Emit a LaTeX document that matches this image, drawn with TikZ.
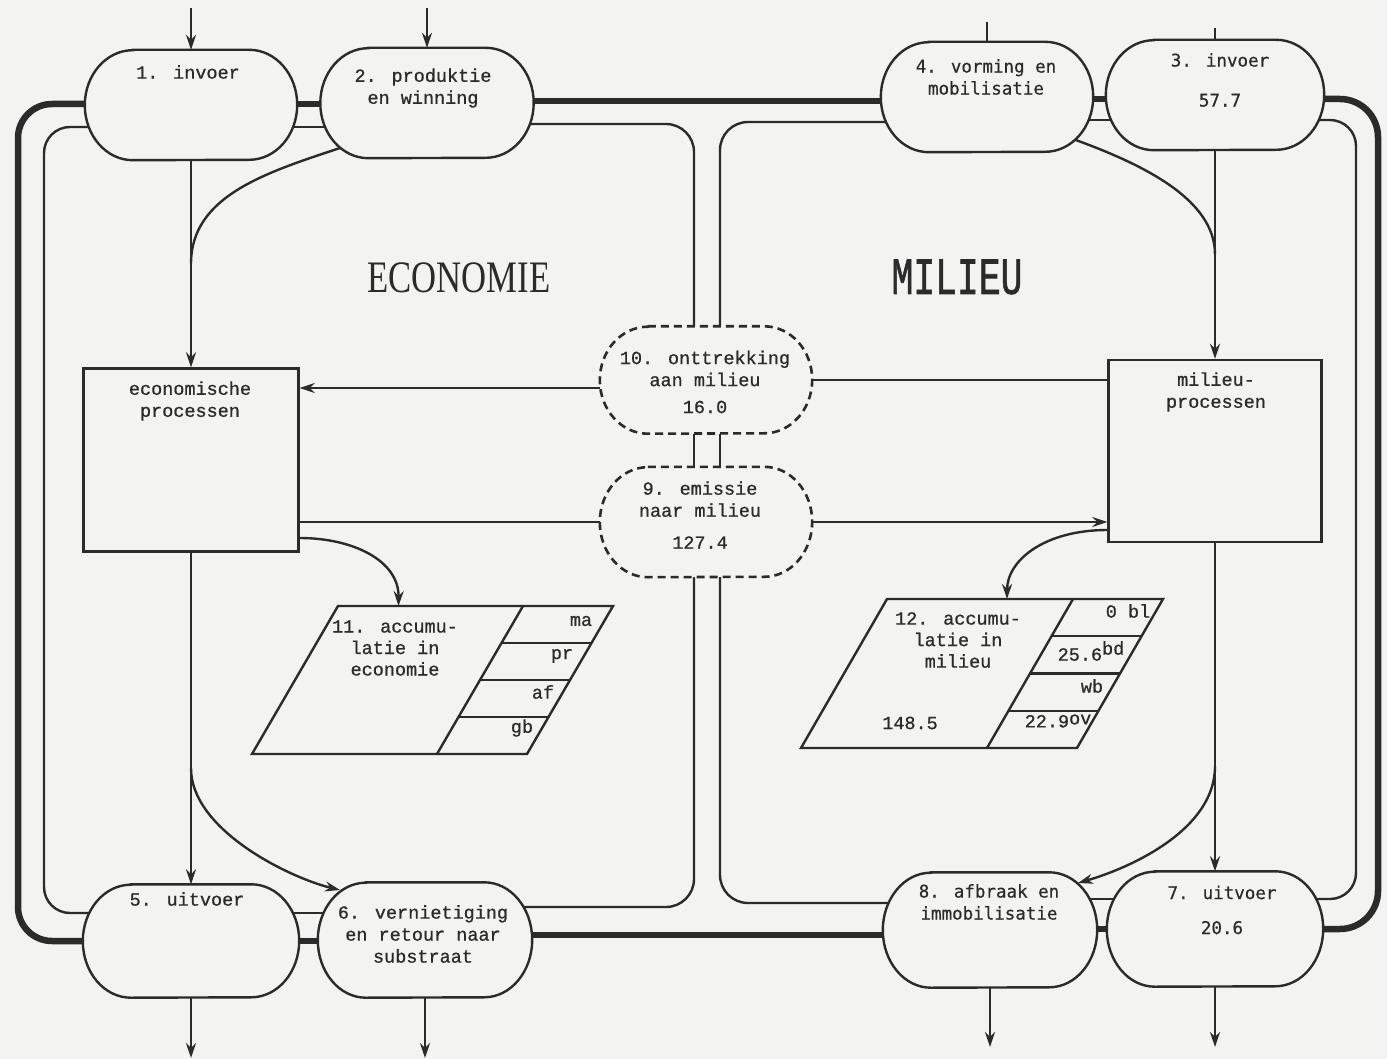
\documentclass[tikz,border=0pt]{standalone}
\usepackage{fontspec}
\newfontfamily\typefont{Liberation Mono}[FakeBold=0.8]
\newfontfamily\gothfont{DejaVu Sans Mono}[FakeBold=0.5]
\newfontfamily\titleserif{Liberation Serif}
\newfontfamily\titlemono{Liberation Mono}[FakeBold=1.5]
\usetikzlibrary{arrows.meta,calc}

\definecolor{paper}{HTML}{F3F3F1}
\definecolor{ink}{HTML}{2B2B2B}

% oval process outline with elliptic ends: style, node, x radius, half height
\newcommand\stadium[4]{%
  \path[#1] ([xshift=#3]#2.north west) -- ([xshift=-#3]#2.north east)
    arc[start angle=90, end angle=-90, x radius=#3, y radius=#4]
    -- ([xshift=#3]#2.south west)
    arc[start angle=270, end angle=90, x radius=#3, y radius=#4] -- cycle;}

\tikzset{
  anchorbox/.style 2 args={draw=none, inner sep=0pt, minimum width=#1, minimum height=#2},
  procbox/.style 2 args={draw=ink, fill=paper, line width=2.4pt, inner sep=0pt, minimum width=#1, minimum height=#2},
  thinflow/.style={draw=ink, line width=2.4pt},
  thickflow/.style={draw=ink, line width=6.5pt},
  flowarrow/.style={thinflow, -{Stealth[length=15pt,width=10pt,inset=5pt]}},
  outline/.style={draw=ink, fill=paper, line width=2.4pt},
  dashoutline/.style={draw=ink, fill=paper, line width=2.6pt, dash pattern=on 8pt off 5pt},
  typetext/.style={font=\typefont\fontsize{18.5}{22}\selectfont, text=ink, align=center, inner sep=0pt},
  gothtext/.style={font=\gothfont\fontsize{17.5}{22}\selectfont, text=ink, align=center, inner sep=0pt},
}

\begin{document}
\begin{tikzpicture}[x=1pt,y=-1pt]
\fill[paper] (0,0) rectangle (1387,1059);
\useasboundingbox (0,0) rectangle (1387,1059);

% process frames
\node[anchorbox={212pt}{110pt}] (n1) at (191,105) {};
\node[anchorbox={213pt}{110pt}] (n2) at (427,103) {};
\node[anchorbox={212pt}{110pt}] (n4) at (987,97) {};
\node[anchorbox={218pt}{110pt}] (n3) at (1215,95) {};
\node[anchorbox={216pt}{113pt}] (n5) at (191,941) {};
\node[anchorbox={214pt}{115pt}] (n6) at (425,940) {};
\node[anchorbox={214pt}{115pt}] (n8) at (990,930) {};
\node[anchorbox={216pt}{115pt}] (n7) at (1215,929) {};
\node[anchorbox={212pt}{107pt}] (n10) at (706,380) {};
\node[anchorbox={212pt}{110pt}] (n9) at (706,522) {};

\node[procbox={215pt}{183pt}] (econ) at (191,460) {};
\node[procbox={213pt}{182pt}] (milieu) at (1215,451) {};

% outer (thick) and inner (thin) rings
\draw[thickflow, rounded corners=34pt] (n1.center |- 0,104) -| (18,941) -- (n5.center |- 0,941);
\draw[thinflow, rounded corners=26pt] (n1.center |- 0,127) -| (44,913) -- (n5.center |- 0,913);
\draw[thickflow, rounded corners=38pt] (n3.center |- 0,99) -| (1378,929) -- (n7.center |- 0,929);
\draw[thinflow, rounded corners=26pt] (n3.center |- 0,120) -| (1356,899) -- (n7.center |- 0,899);

\draw[thickflow] (n1.center |- 0,104) -- (n2.center |- 0,104);
\draw[thickflow] (n2.center |- 0,101) -- (n4.center |- 0,101);
\draw[thickflow] (n4.center |- 0,99) -- (n3.center |- 0,99);
\draw[thinflow] (n1.center |- 0,127) -- (n2.center |- 0,127);
\draw[thinflow] (n4.center |- 0,120) -- (n3.center |- 0,120);

\draw[thickflow] (n5.center |- 0,941) -- (n6.center |- 0,941);
\draw[thickflow] (n6.center |- 0,935) -- (n8.center |- 0,935);
\draw[thickflow] (n8.center |- 0,929) -- (n7.center |- 0,929);
\draw[thinflow] (n5.center |- 0,913) -- (n6.center |- 0,913);
\draw[thinflow] (n8.center |- 0,899) -- (n7.center |- 0,899);

% channel through the exchange with the environment
\draw[thinflow, rounded corners=28pt] (n2.center |- 0,124) -| ($(n10.north)+(-12,0)$);
\draw[thinflow, rounded corners=28pt] (n4.center |- 0,122) -| ($(n10.north)+(14,0)$);
\draw[thinflow] ($(n10.south)+(-12,0)$) -- ($(n9.north)+(-12,0)$);
\draw[thinflow] ($(n10.south)+(14,0)$) -- ($(n9.north)+(14,0)$);
\draw[thinflow, rounded corners=28pt] ($(n9.south)+(-12,0)$) |- (n6.center |- 0,907);
\draw[thinflow, rounded corners=28pt] ($(n9.south)+(14,0)$) |- (n8.center |- 0,903);

% branches leaving the top processes
\draw[thinflow] ($(n2.center)+(-84,44)$) .. controls (268,172) and (191,195) .. ($(n1.south)!0.5!(econ.north)$);
\draw[thinflow] ($(n4.center)+(86,42)$) .. controls (1145,165) and (1215,200) .. ($(n3.south)!0.5!(milieu.north)$);

% oval outlines
\stadium{outline}{n1}{48pt}{55pt}
\stadium{outline}{n2}{48pt}{55pt}
\stadium{outline}{n4}{48pt}{55pt}
\stadium{outline}{n3}{48pt}{55pt}
\stadium{outline}{n5}{48pt}{56.5pt}
\stadium{outline}{n6}{48pt}{57.5pt}
\stadium{outline}{n8}{48pt}{57.5pt}
\stadium{outline}{n7}{48pt}{57.5pt}
\stadium{dashoutline}{n10}{48pt}{53.5pt}
\stadium{dashoutline}{n9}{48pt}{55pt}

% inputs and outputs
\coordinate (src1) at (191,8);
\coordinate (src2) at (427,8);
\coordinate (src4) at (987,22);
\coordinate (src3) at (1215,28);
\coordinate (out5) at (191,1058);
\coordinate (out6) at (425,1058);
\coordinate (out8) at (990,1047);
\coordinate (out7) at (1215,1047);
\draw[flowarrow] (src1) -- (n1.north);
\draw[flowarrow] (src2) -- (n2.north);
\draw[thinflow] (src4) -- (n4.north);
\draw[thinflow] (src3) -- (n3.north);
\draw[flowarrow] (n5.south) -- (out5);
\draw[flowarrow] (n6.south) -- (out6);
\draw[flowarrow] (n8.south) -- (out8);
\draw[flowarrow] (n7.south) -- (out7);

% flows through the process boxes
\draw[flowarrow] (n1.south) -- (econ.north);
\draw[flowarrow] (econ.south) -- (n5.north);
\draw[flowarrow] (n3.south) -- (milieu.north);
\draw[flowarrow] (milieu.south) -- (n7.north);

\path ($(n10.west)+(0,8)$) coordinate (p10w);
\draw[flowarrow] (p10w) -- (p10w -| econ.east);
\draw[thinflow] (n10.east) -- (n10.east -| milieu.west);
\draw[thinflow] (n9.west) -- (n9.west -| econ.east);
\draw[flowarrow] (n9.east) -- (n9.east -| milieu.west);

\draw[flowarrow] ($(econ.south)!0.65!(n5.north)$) .. controls (191,830) and (290,878) .. ($(n6.center)+(-85,-50)$);
\draw[flowarrow] ($(milieu.south)!0.68!(n7.north)$) .. controls (1215,830) and (1130,868) .. ($(n8.center)+(88,-47)$);

% accumulation in the economy
\coordinate (a11tl) at (338,606);
\coordinate (a11tr) at (613,606);
\coordinate (a11br) at (527,754);
\coordinate (a11bl) at (252,754);
\coordinate (d11t) at (523,606);
\coordinate (d11b) at (437,754);
\draw[outline] (a11tl) -- (a11tr) -- (a11br) -- (a11bl) -- cycle;
\draw[thinflow] (d11t) -- (d11b);
\foreach \f in {0.25,0.5,0.75}
  \draw[thinflow] ($(d11t)!\f!(d11b)$) -- ($(a11tr)!\f!(a11br)$);
\draw[flowarrow] ($(econ.east)+(0,78)$) .. controls (352,538) and (399,560) .. ($(a11tl)!0.22!(a11tr)$);

% accumulation in the environment
\coordinate (a12tl) at (887,599);
\coordinate (a12tr) at (1163,599);
\coordinate (a12br) at (1077,748);
\coordinate (a12bl) at (801,748);
\coordinate (d12t) at (1073,599);
\coordinate (d12b) at (987,748);
\draw[outline] (a12tl) -- (a12tr) -- (a12br) -- (a12bl) -- cycle;
\draw[thinflow] (d12t) -- (d12b);
\foreach \f in {0.25,0.5,0.75}
  \draw[thinflow] ($(d12t)!\f!(d12b)$) -- ($(a12tr)!\f!(a12br)$);
\draw[flowarrow] ($(milieu.west)+(0,79)$) .. controls (1045,530) and (1007,560) .. ($(a12tl)!0.435!(a12tr)$);

% labels
\node[typetext] (t1) at (188,72) {1. invoer};
\node[typetext] (t2) at (423,88) {2. produktie\\en winning};
\node[gothtext] (t4) at (986,77) {4. vorming en\\mobilisatie};
\node[gothtext] (t3) at (1220,80) {3. invoer\\[18pt]57.7};
\node[typetext] (t5) at (187,899) {5. uitvoer};
\node[typetext] (t6) at (423,934) {6. vernietiging\\en retour naar\\substraat};
\node[gothtext] (t8) at (989,902) {8. afbraak en\\immobilisatie};
\node[gothtext] (t7) at (1222,910) {7. uitvoer\\[13pt]20.6};
\node[typetext] (t10) at (705,382) {10. onttrekking\\aan milieu\\[5pt]16.0};
\node[typetext] (t9) at (700,515) {9. emissie\\naar milieu\\[10pt]127.4};
\node[typetext] (tec) at (190,401) {economische\\processen};
\node[typetext] (tmi) at (1216,392) {milieu-\\processen};

\node[font=\titleserif\fontsize{45}{45}\selectfont, text=ink, inner sep=0pt, xscale=0.77] (econtitle) at (459,278) {ECONOMIE};
\node[font=\titlemono\fontsize{52}{52}\selectfont, text=ink, inner sep=0pt, xscale=0.7] (miltitle) at (957,277) {MILIEU};

\node[typetext, font=\typefont\fontsize{18.5}{21.5}\selectfont] (t11) at (395,648) {11. accumu-\\latie in\\economie};
\node[typetext] (l11a) at (581,621) {ma};
\node[typetext] (l11b) at (562,656) {pr};
\node[typetext] (l11c) at (543,692) {af};
\node[typetext] (l11d) at (522,728) {gb};

\node[typetext, font=\typefont\fontsize{18.5}{21.5}\selectfont] (t12) at (958,640) {12. accumu-\\latie in\\milieu};
\node[typetext] (l12a) at (1128,611) {0 bl};
\node[typetext] (l12b) at (1091,651) {25.6\raisebox{6pt}{bd}};
\node[typetext] (l12c) at (1092,686) {wb};
\node[typetext] (l12d) at (1058,721) {22.9\raisebox{3pt}{ov}};
\node[typetext] (l12e) at (910,723) {148.5};
\end{tikzpicture}
\end{document}
